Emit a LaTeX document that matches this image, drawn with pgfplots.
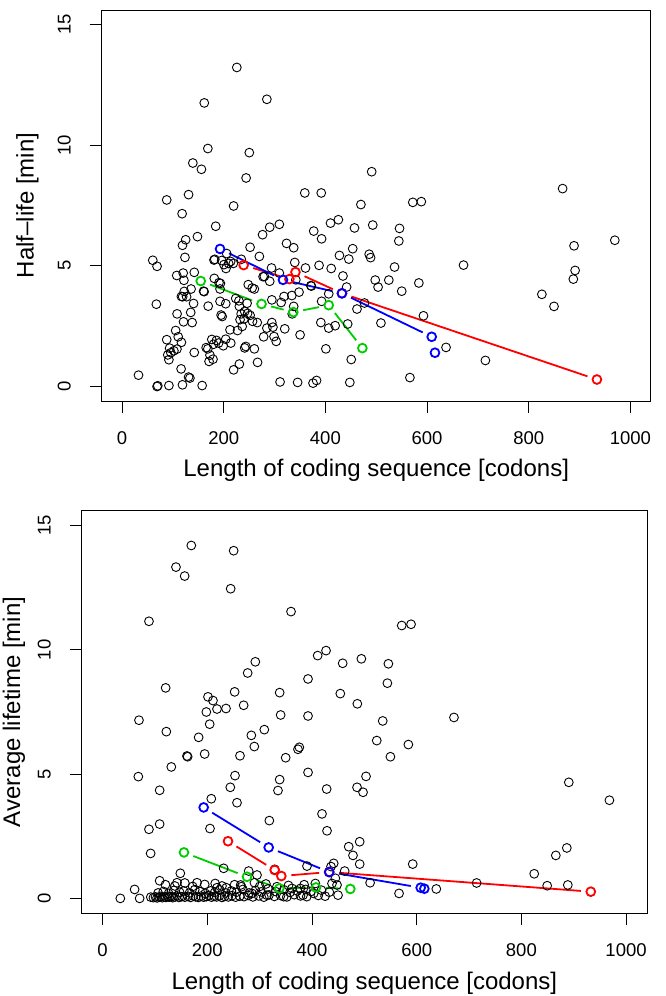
\documentclass[border=0pt]{standalone}
\usepackage{pgfplots}
\pgfplotsset{compat=1.18}
\usepackage{fontspec}
\setmainfont{Liberation Sans}
\definecolor{rgreen}{RGB}{0,205,0}

\pgfplotsset{
  rplot/.style={
    scale only axis, anchor=south west,
    xmin=-40, xmax=1040, ymin=-0.6, ymax=15.6,
    xtick={0,200,400,600,800,1000}, ytick={0,5,10,15},
    scaled ticks=false,
    /pgf/number format/1000 sep={},
    /pgf/number format/assume math mode=true,
    tick align=outside, major tick length=12pt,
    xtick pos=bottom, ytick pos=left,
    axis line style={line width=0.8pt},
    every tick/.style={black, line width=0.8pt},
    ticklabel style={font=\fontsize{18.5}{20}\selectfont},
    xticklabel style={anchor=base, yshift=-31.3pt},
    yticklabel style={xshift=-19pt, rotate=90, anchor=base},
    every axis x label/.style={at={(axis description cs:0.5,0)}, anchor=base,
      yshift=-75.7pt, font=\fontsize{24}{26}\selectfont},
  },
  blk/.style={only marks, mark=o, mark size=4.4pt, black, line width=0.9pt},
  col/.style={only marks, mark=o, mark size=4.4pt, line width=1.8pt},
  seg/.style={no marks, line width=1.8pt, shorten <=10pt, shorten >=10pt},
}

\begin{document}
\begin{tikzpicture}
\path[use as bounding box] (0,0) rectangle (666pt,996pt);

% ---------- top: half-life ----------
\begin{axis}[rplot,
  at={(101.7pt,595pt)}, width=549pt, height=391pt,
  xlabel={Length of coding sequence [codons]},
  ylabel={Half--life [min]},
  every axis y label/.style={at={(axis description cs:-0.1239,0.5)}, rotate=90,
    anchor=base, font=\fontsize{24}{26}\selectfont},
]
\addplot[blk] coordinates {
(225.8,13.22) (161.8,11.75) (284.9,11.90) (168.8,9.86) (250.4,9.69) (139.3,9.26) (156.2,9.00)
(244.1,8.64) (491.1,8.90) (87.9,7.73) (130.9,7.95) (359.5,8.02) (391.9,8.02) (866.7,8.20)
(118.2,7.16) (219.5,7.48) (572.0,7.63) (588.8,7.66) (469.9,7.54) (184.3,6.64) (290.5,6.60)
(309.5,6.72) (276.5,6.29) (410.1,6.77) (425.6,6.91) (457.3,6.57) (493.2,6.69) (545.9,6.55)
(544.5,6.03) (377.1,6.44) (392.6,6.12) (148.4,6.21) (125.2,6.08) (118.9,5.85) (251.9,5.77)
(323.6,5.93) (337.7,5.75) (453.8,5.71) (969.4,6.06) (889.2,5.83) (60.5,5.23) (68.9,4.98)
(123.8,5.35) (180.9,5.24) (182.5,5.27) (196.0,5.22) (205.8,5.51) (213.7,5.18) (204.5,4.89)
(209.7,5.10) (218.9,5.10) (234.6,5.27) (200.5,5.05) (270.2,5.39) (294.1,4.91) (339.8,5.14)
(360.9,4.91) (387.6,5.02) (411.5,4.89) (427.7,5.43) (446.1,5.28) (486.2,5.48) (489.0,5.34)
(536.1,4.95) (671.8,5.03) (891.3,4.81) (887.8,4.45) (825.9,3.82) (849.8,3.32) (107.6,4.60)
(120.3,4.70) (121.8,4.40) (142.1,4.73) (116.8,3.73) (122.4,3.94) (135.8,4.04) (160.4,3.95)
(161.5,3.93) (181.5,4.48) (190.7,4.30) (193.5,4.27) (192.8,4.04) (280.0,4.56) (277.5,4.55)
(290.5,4.36) (309.5,4.70) (371.4,4.18) (372.5,4.16) (434.6,4.58) (441.8,4.12) (406.6,3.84)
(462.2,3.21) (476.9,3.46) (498.1,4.41) (503.7,4.12) (524.8,4.41) (550.2,3.95) (583.9,4.29)
(593.0,2.93) (509.3,2.63) (637.4,1.62) (714.8,1.08) (566.3,0.37) (67.5,3.41) (140.7,3.44)
(169.5,3.33) (108.3,3.01) (135.1,3.07) (121.0,2.68) (137.9,2.65) (105.5,2.32) (87.9,1.94)
(110.5,2.06) (116.8,1.83) (93.6,1.59) (90.0,1.31) (92.2,1.11) (102.0,1.48) (96.0,1.40)
(108.0,1.55) (142.1,1.41) (116.2,0.73) (130.9,0.39) (133.5,0.35) (32.4,0.47) (68.9,0.00)
(70.3,0.03) (92.2,0.04) (118.9,0.07) (157.6,0.04) (192.8,3.53) (204.0,3.43) (194.9,2.96)
(197.0,2.90) (168.8,1.56) (165.5,1.61) (176.6,1.95) (171.2,1.04) (178.9,1.13) (185.7,1.91)
(199.1,1.69) (204.0,1.96) (213.9,1.80) (212.4,2.35) (227.2,2.32) (223.7,3.65) (230.8,3.32)
(234.3,3.01) (241.3,3.11) (247.0,3.03) (232.2,2.77) (236.4,2.49) (256.8,2.70) (266.0,2.65)
(243.4,1.66) (241.3,1.60) (260.3,1.56) (219.5,0.69) (230.8,0.93) (266.6,1.00) (278.6,2.06)
(284.9,2.42) (294.7,2.65) (296.9,2.46) (299.0,2.07) (303.3,1.87) (320.1,2.39) (294.7,3.59)
(313.0,3.48) (318.7,3.73) (334.1,3.77) (348.2,3.91) (337.7,3.32) (334.8,3.01) (350.3,2.14)
(310.9,0.19) (345.4,0.17) (375.7,0.14) (382.7,0.25) (448.1,0.17) (401.0,1.56) (450.9,1.12)
(391.1,2.65) (406.6,2.42) (419.3,2.52) (443.9,2.59) (392.6,3.53) (260.3,4.04) (248.3,4.22)
(256.0,4.08) (341.9,4.42) (119.3,3.72) (127.0,3.72) (173.0,1.30) (180.0,1.75) (190.0,1.80)
(246.0,3.45) (240.0,2.80) (252.0,2.95) (230.0,3.55)
};
% green series
\addplot[seg, rgreen] coordinates {(154.8,4.37) (274.4,3.42)};
\addplot[seg, rgreen] coordinates {(274.4,3.42) (337.0,3.08)};
\addplot[seg, rgreen] coordinates {(337.0,3.08) (406.6,3.37)};
\addplot[seg, rgreen] coordinates {(406.6,3.37) (472.8,1.59)};
\addplot[col, rgreen] coordinates {(154.8,4.37) (274.4,3.42) (337.0,3.08) (406.6,3.37) (472.8,1.59)};
% red series
\addplot[seg, red] coordinates {(239.2,5.03) (329.2,4.45)};
\addplot[seg, red] coordinates {(341.2,4.74) (432.6,3.86)};
\addplot[seg, red] coordinates {(432.6,3.86) (934.2,0.29)};
\addplot[col, red] coordinates {(239.2,5.03) (329.2,4.45) (341.2,4.74) (432.6,3.86) (934.2,0.29)};
% blue series
\addplot[seg, blue] coordinates {(192.8,5.70) (316.6,4.42)};
\addplot[seg, blue] coordinates {(316.6,4.42) (432.6,3.86)};
\addplot[seg, blue] coordinates {(432.6,3.86) (609.2,2.06)};
\addplot[col, blue] coordinates {(192.8,5.70) (316.6,4.42) (432.6,3.86) (609.2,2.06) (615.6,1.40)};
\end{axis}

% ---------- bottom: average lifetime ----------
\begin{axis}[rplot,
  at={(81.7pt,82.7pt)}, width=565.3pt, height=402.6pt,
  xlabel={Length of coding sequence [codons]},
  ylabel={Average lifetime [min]},
  every axis y label/.style={at={(axis description cs:-0.1091,0.5)}, rotate=90,
    anchor=base, font=\fontsize{24}{26}\selectfont},
]
\addplot[blk] coordinates {
(169.4,14.20) (250.3,13.99) (140.1,13.33) (156.7,12.97) (244.6,12.46) (88.5,11.15) (359.9,11.54)
(410.8,9.77) (426.8,9.97) (458.6,9.46) (494.3,9.64) (291.7,9.52) (277.1,9.07) (392.4,8.83)
(454.1,8.24) (486.6,7.83) (120.4,8.47) (252.2,8.31) (338.2,8.28) (201.3,8.11) (210.8,7.96)
(218.5,7.62) (235.7,7.64) (269.4,7.77) (198.1,7.50) (340.1,7.38) (392.4,7.34) (69.4,7.17)
(204.5,7.01) (121.7,6.71) (284.1,6.56) (308.9,6.79) (183.4,6.48) (289.8,6.11) (375.8,6.08)
(373.2,6.00) (161.1,5.73) (162.4,5.70) (194.9,5.81) (262.4,5.74) (349.7,5.66) (131.2,5.29)
(68.2,4.90) (252.9,4.94) (338.2,4.78) (392.4,5.07) (108.9,4.35) (243.9,4.47) (335.0,4.34)
(428.0,4.40) (503.2,4.91) (486.0,4.47) (497.5,4.27) (207.6,4.01) (256.7,3.85) (88.5,2.78)
(108.9,2.99) (205.1,2.81) (318.5,3.13) (419.1,3.40) (428.7,2.72) (91.7,1.81) (231.2,1.21)
(470.1,2.08) (491.1,2.28) (478.3,1.73) (491.1,1.38) (390.4,1.30) (441.4,1.41) (436.3,1.28)
(462.4,1.10) (444.6,0.81) (447.8,0.54) (449.7,0.13) (328.7,1.17) (294.9,0.94) (279.0,1.10)
(263.7,0.54) (148.4,1.01) (108.9,0.71) (61.1,0.36) (33.8,0.00) (70.7,0.00)
(571.4,10.98) (589.2,11.03) (545.9,9.44) (544.0,8.66) (535.1,7.14) (523.7,6.35) (584.1,6.19)
(549.8,5.70) (671.2,7.28) (890.6,4.67) (968.2,3.95) (886.8,2.03) (865.8,1.73) (824.5,0.99)
(849.3,0.51) (888.7,0.54) (714.5,0.62) (637.5,0.38) (566.3,0.20) (592.4,1.38) (511.0,0.63)
(142.0,0.63) (180.3,0.63) (218.5,0.43) (236.3,0.43) (333.0,0.47) (361.8,0.40) (377.7,0.40)
(382.8,0.13) (403.2,0.20) (406.4,0.60) (438.2,0.60) (345.9,0.07) (314.0,0.13) (285.4,0.20)
(265.0,0.47)
(92,0.05) (97,0.03) (101,0.06) (104,0.02) (108,0.05) (111,0.08) (114,0.03) (118,0.06)
(121,0.04) (124,0.09) (127,0.05) (131,0.07) (134,0.03) (138,0.06) (142,0.10) (146,0.04)
(151,0.07) (157,0.05) (163,0.08) (168,0.04) (173,0.10) (178,0.06) (183,0.04) (188,0.09)
(193,0.05) (198,0.07) (203,0.12) (208,0.05) (213,0.08) (218,0.06) (223,0.10) (228,0.04)
(233,0.08) (240,0.06) (247,0.11) (254,0.05) (262,0.09) (270,0.07) (278,0.12) (287,0.06)
(298,0.10) (308,0.05) (318,0.14) (328,0.08) (340,0.12) (352,0.06) (366,0.15) (378,0.10)
(390,0.07) (412,0.12) (425,0.09)
(106,0.22) (116,0.28) (126,0.20) (136,0.32) (147,0.25) (155,0.30) (166,0.22) (176,0.35)
(186,0.27) (196,0.20) (206,0.30) (214,0.24) (224,0.34) (235,0.22) (246,0.30) (256,0.25)
(268,0.36) (280,0.22) (292,0.32) (303,0.26) (316,0.38) (330,0.28) (346,0.35) (358,0.24)
(372,0.30) (388,0.36) (398,0.28) (418,0.33) (433,0.25)
(120,0.55) (138,0.50) (157,0.62) (172,0.48) (195,0.56) (215,0.60) (228,0.50) (252,0.55)
(290,0.63) (300,0.48) (312,0.58) (355,0.52) (385,0.55)
};
% green series
\addplot[seg, rgreen] coordinates {(155.4,1.85) (275.8,0.87)};
\addplot[seg, rgreen] coordinates {(275.8,0.87) (337.6,0.40)};
\addplot[seg, rgreen] coordinates {(337.6,0.40) (407.6,0.44)};
\addplot[seg, rgreen] coordinates {(407.6,0.44) (473.2,0.38)};
\addplot[col, rgreen] coordinates {(155.4,1.85) (275.8,0.87) (337.6,0.40) (407.6,0.44) (473.2,0.38)};
% red series
\addplot[seg, red] coordinates {(239.5,2.30) (328.7,1.14)};
\addplot[seg, red] coordinates {(341.4,0.90) (432.6,1.06)};
\addplot[seg, red] coordinates {(432.6,1.06) (932.6,0.27)};
\addplot[col, red] coordinates {(239.5,2.30) (328.7,1.14) (341.4,0.90) (432.6,1.06) (932.6,0.27)};
% blue series
\addplot[seg, blue] coordinates {(193.0,3.66) (317.2,2.05)};
\addplot[seg, blue] coordinates {(317.2,2.05) (433.1,1.06)};
\addplot[seg, blue] coordinates {(433.1,1.06) (607.6,0.43)};
\addplot[col, blue] coordinates {(193.0,3.66) (317.2,2.05) (433.1,1.06) (607.6,0.43) (614.6,0.39)};
\end{axis}
\end{tikzpicture}
\end{document}
